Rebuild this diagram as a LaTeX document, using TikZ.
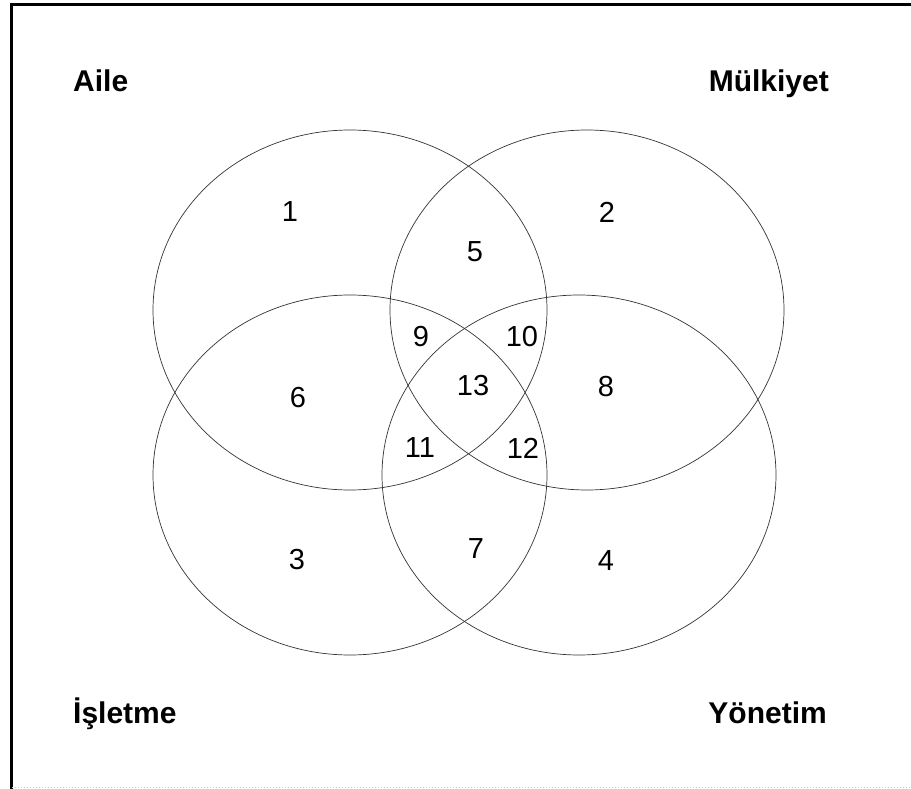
\documentclass[tikz,border=0pt]{standalone}
\usepackage{fontspec}
\setmainfont{Liberation Sans}
\usetikzlibrary{shapes.geometric}
\begin{document}
\begin{tikzpicture}[x=1pt,y=-1pt,
  ring/.style={draw=black!80, line width=0.7pt, ellipse, inner sep=0pt, minimum width=394pt, minimum height=360pt},
  setname/.style={font=\fontsize{30}{30}\selectfont\bfseries, inner sep=0pt},
  region/.style={font=\fontsize{29}{29}\selectfont, inner sep=0pt}]
  \useasboundingbox (0,0) rectangle (911,789);
  % frame: heavy top and left edges, faint bottom edge
  \draw[line width=3pt, line cap=rect] (11,789) -- (11,5) -- (911,5);
  \draw[gray!45, dotted, line width=1pt] (12,787) -- (911,787);
  % the four sets
  \node[ring] (aile) at (350,310) {};
  \node[ring] (mulk) at (587,310) {};
  \node[ring] (isl)  at (350,475) {};
  \node[ring] (yon)  at (579,475) {};
  % set names
  \node[setname, anchor=base west] (laile) at (73,92) {Aile};
  \node[setname, anchor=base east] (lmulk) at (829,92) {Mülkiyet};
  \node[setname, anchor=base west] (lisl)  at (73,723) {İşletme};
  \node[setname, anchor=base east] (lyon)  at (827,723) {Yönetim};
  % region numbers
  \node[region] (r1)  at (290,212) {1};
  \node[region] (r2)  at (607,212) {2};
  \node[region] (r5)  at (475,252) {5};
  \node[region] (r9)  at (421,337) {9};
  \node[region] (r10) at (522,337) {10};
  \node[region] (r6)  at (298,398) {6};
  \node[region] (r13) at (473,386) {13};
  \node[region] (r8)  at (606,387) {8};
  \node[region] (r11) at (420,448) {11};
  \node[region] (r12) at (523,448) {12};
  \node[region] (r3)  at (297,560) {3};
  \node[region] (r7)  at (476,549) {7};
  \node[region] (r4)  at (606,561) {4};
\end{tikzpicture}
\end{document}
